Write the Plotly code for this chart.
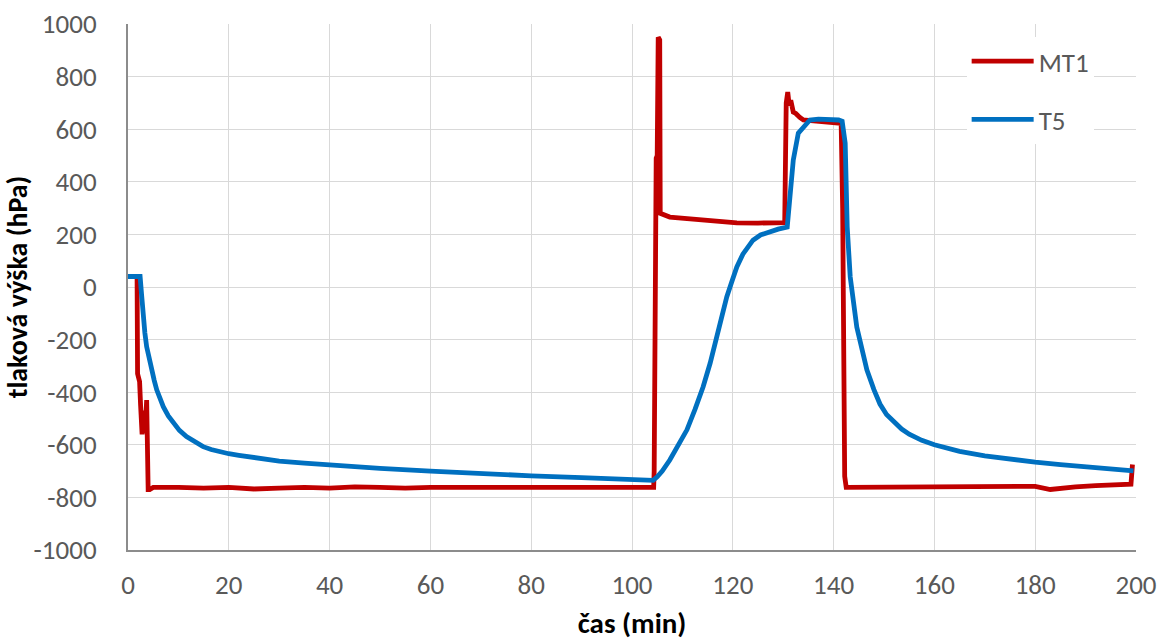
import plotly.graph_objects as go

# ---- data ----
t_mt1 = [0, 1.8, 1.9, 2.3, 2.5, 2.8, 3.1, 3.4, 3.7, 4.0, 4.3, 5, 10, 15, 20, 25, 30, 35, 40,
         45, 50, 55, 60, 70, 80, 90, 100, 104.3, 104.4, 104.5, 104.7, 104.8, 105.0, 105.2,
         105.5, 105.6, 107.5, 110, 114, 118, 120.8, 125, 130, 130.3, 130.6, 130.9, 131.2,
         131.5, 132, 132.5, 133.3, 134, 136, 138, 140, 141.5, 141.8, 142.0, 142.2, 142.5,
         150, 160, 170, 175, 180, 183, 185, 188, 192, 195, 199, 199.3]
mt1 = [40, 40, -330, -360, -450, -560, -470, -555, -430, -770, -770, -762, -762, -765, -762,
       -768, -765, -762, -765, -760, -762, -765, -762, -763, -762, -762, -762, -762, -700,
       -310, -300, 490, 500, 950, 940, 280, 266, 262, 255, 248, 244, 243, 243, 245, 700, 741,
       690, 710, 665, 660, 645, 635, 632, 630, 627, 622, 300, -200, -720, -762, -762, -762,
       -762, -760, -758, -770, -765, -760, -755, -752, -750, -675]

t_t5 = [0, 2.4, 2.7, 3.0, 3.35, 3.7, 4.2, 4.7, 5.2, 5.7, 6.3, 7, 8, 9, 10.2, 11.6, 13.2,
        14.9, 16.5, 18.3, 20, 22, 26, 30, 35, 40, 50, 60, 70, 80, 90, 100, 104.2, 105, 106,
        107.5, 109, 110.9, 112.5, 114.1, 115.5, 116.8, 117.8, 118.8, 119.8, 120.8, 122, 123,
        124, 125.5, 127.4, 129, 130.8, 131.3, 132, 133, 134.7, 135.3, 137, 139, 141, 141.7,
        142.3, 142.7, 143.3, 144.6, 146.6, 148, 149.2, 150.5, 152, 153.5, 155, 157.5, 160,
        165, 170, 175, 180, 185, 190, 195, 199.5]
t5 = [40, 40, -30, -113, -175, -227, -275, -315, -355, -391, -425, -455, -490, -517, -545,
      -569, -590, -607, -618, -627, -634, -640, -652, -662, -670, -677, -690, -700, -710,
      -718, -725, -730, -735, -722, -700, -658, -605, -543, -465, -380, -290, -190, -115,
      -38, 20, 76, 125, 155, 178, 198, 212, 220, 228, 357, 483, 585, 627, 635, 638, 637,
      635, 630, 547, 228, 38, -152, -315, -390, -445, -485, -515, -540, -560, -583, -600,
      -625, -642, -655, -666, -675, -684, -692, -699]

x_ticks = list(range(0, 201, 20))
x_labels = [str(v) for v in x_ticks]
y_ticks = list(range(-1000, 1001, 200))
y_labels = [str(v) for v in y_ticks]  # plain hyphen minus, as in the reference

FONT = "Calibri, Carlito, Lato, sans-serif"
GRAY = "#595959"

fig = go.Figure()
fig.add_trace(go.Scatter(x=t_mt1, y=mt1, mode="lines", name="MT1", legendgroup="a",
                         line=dict(color="#C00000", width=4.8)))
fig.add_trace(go.Scatter(x=t_t5, y=t5, mode="lines", name="T5", legendgroup="b",
                         line=dict(color="#0070C0", width=4.8)))

fig.update_layout(
    width=1162, height=644,
    margin=dict(l=128, r=26, t=24, b=94),
    paper_bgcolor="white", plot_bgcolor="white",
    font=dict(family=FONT, size=27, color=GRAY),
    legend=dict(x=0.832, y=0.975, xanchor="left", yanchor="top",
                bgcolor="white", font=dict(family=FONT, size=27, color=GRAY),
                tracegroupgap=20, itemwidth=62),
    showlegend=True,
)
fig.update_xaxes(range=[0, 200], tickvals=x_ticks, ticktext=x_labels, showgrid=True,
                 gridcolor="#D9D9D9", gridwidth=1, zeroline=False, showline=True,
                 linecolor="#8C8C8C", linewidth=2, ticks="", ticklabelstandoff=10,
                 automargin=False,
                 tickfont=dict(family=FONT, size=27, color=GRAY),
                 title=dict(text="čas (min)", standoff=12,
                            font=dict(family=FONT, size=29, color="black", weight="bold")))
fig.update_yaxes(range=[-1000, 1000], tickvals=y_ticks, ticktext=y_labels, showgrid=True,
                 gridcolor="#D9D9D9", gridwidth=1, zeroline=False, showline=True,
                 linecolor="#8C8C8C", linewidth=2, ticks="", ticklabelstandoff=24,
                 automargin=False,
                 tickfont=dict(family=FONT, size=27, color=GRAY),
                 title=dict(text="tlaková výška (hPa)", standoff=10,
                            font=dict(family=FONT, size=28, color="black", weight="bold")))

fig.write_html("out.html")
